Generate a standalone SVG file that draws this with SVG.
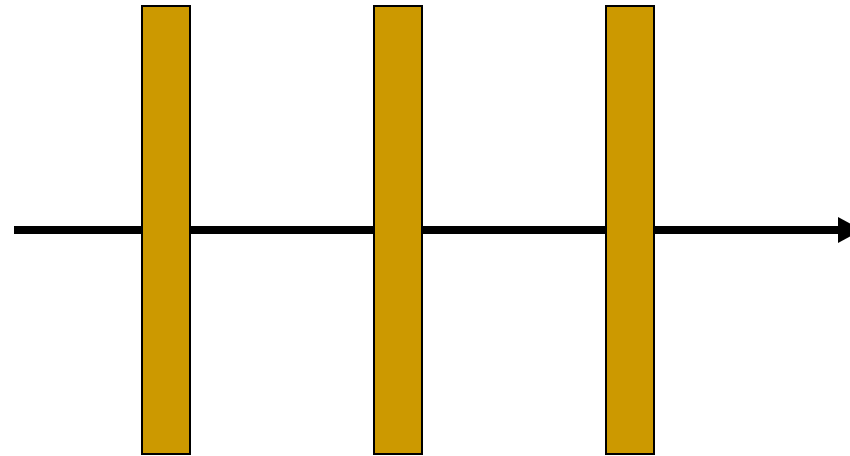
<svg xmlns="http://www.w3.org/2000/svg" width="850" height="456" viewBox="0 0 850 456">
<style>
.bar{fill:#CC9900;stroke:#000;stroke-width:2}
.axis{stroke:#000;stroke-width:8;fill:none}
</style>
<rect width="850" height="456" fill="#fff"/>
<g id="connectors">
<line class="axis" x1="14" y1="230" x2="840" y2="230"/>
<polygon points="838,217 862,230 838,243" fill="#000"/>
</g>
<g id="bar1"><rect class="bar" x="142" y="6" width="48" height="448"/></g>
<g id="bar2"><rect class="bar" x="374" y="6" width="48" height="448"/></g>
<g id="bar3"><rect class="bar" x="606" y="6" width="48" height="448"/></g>
</svg>
